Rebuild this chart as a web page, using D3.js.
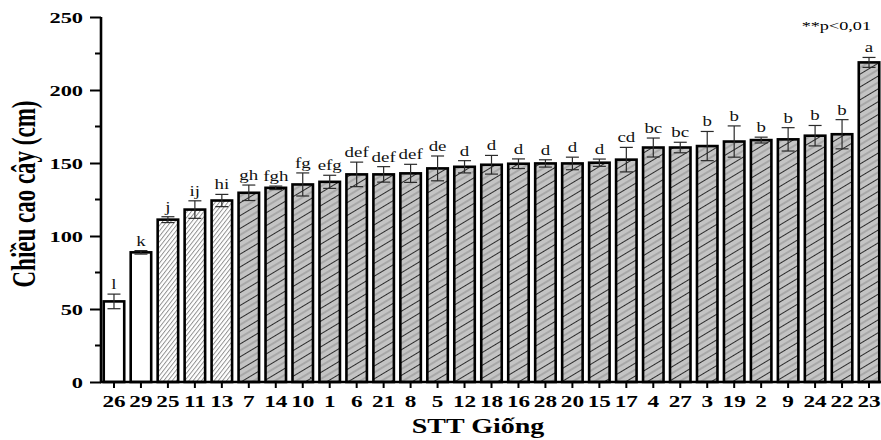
<!DOCTYPE html>
<html>
<head>
<meta charset="utf-8">
<script src="https://cdn.jsdelivr.net/npm/d3@7/dist/d3.min.js"></script>
<style>
  html, body { margin: 0; padding: 0; background: #fff; }
  svg text { font-family: "Liberation Serif", "Times New Roman", serif; }
</style>
</head>
<body>
<svg id="chart" width="881" height="440"></svg>
<script>
// Plant height (cm) per variety, sorted ascending
const varieties = ["26","29","25","11","13","7","14","10","1","6","21","8","5","12","18","16","28","20","15","17","4","27","3","19","2","9","24","22","23"];
const heights   = [55.2, 88.8, 111.2, 118.1, 124.3, 129.6, 133, 135.3, 137.1, 142.2, 142.2, 142.9, 146.3, 147.4, 148.8, 149.5, 149.7, 149.7, 150.2, 152.3, 160.6, 160.6, 161.6, 164.7, 165.7, 166.2, 168.7, 169.7, 218.9];
const errors    = [5, 1.2, 2, 6, 4.2, 5.3, 1.2, 7.9, 4.5, 8.4, 5.3, 6.2, 8.5, 4.2, 6.4, 3.3, 2.5, 4.3, 2.5, 8.4, 6.5, 3.6, 10, 10.7, 2, 8, 7, 10, 3.4];
const letters   = ["l","k","j","ij","hi","gh","fgh","fg","efg","def","def","def","de","d","d","d","d","d","d","cd","bc","bc","b","b","b","b","b","b","a"];
// Fill group: 0 = plain, 1 = fine hatch, 2 = grey hatch
const groups    = [0,0,1,1,1,2,2,2,2,2,2,2,2,2,2,2,2,2,2,2,2,2,2,2,2,2,2,2,2];
const yTicks    = [0, 50, 100, 150, 200, 250];
const yMinor    = [25, 75, 125, 175, 225];

const svg = d3.select("#chart");
const W = 881;
const x0 = 101, yBase = 382, yTop = 17;

const x = d3.scaleBand().domain(varieties).range([100.5, 882.5]).paddingInner(0.24).paddingOuter(0.12);
const y = d3.scaleLinear().domain([0, 250]).range([yBase, yTop]);

// Fill patterns
const defs = svg.append("defs");
const fine = defs.append("pattern").attr("id", "fine").attr("patternUnits", "userSpaceOnUse")
  .attr("width", 4).attr("height", 3.3).attr("patternTransform", "rotate(-52)");
fine.append("rect").attr("width", 4).attr("height", 3.3).attr("fill", "#fff");
fine.append("line").attr("x1", 0).attr("x2", 4).attr("y1", 0.5).attr("y2", 0.5).attr("stroke", "#888").attr("stroke-width", 0.9);

const grey = defs.append("pattern").attr("id", "grey").attr("patternUnits", "userSpaceOnUse")
  .attr("width", 10).attr("height", 11).attr("patternTransform", "rotate(-31)");
grey.append("rect").attr("width", 10).attr("height", 11).attr("fill", "#c4c4c4");
grey.append("line").attr("x1", 0).attr("x2", 10).attr("y1", 0.5).attr("y2", 0.5).attr("stroke", "#2a2a2a").attr("stroke-width", 1);
grey.append("line").attr("x1", 0).attr("x2", 10).attr("y1", 6).attr("y2", 6).attr("stroke", "#8c8c8c").attr("stroke-width", 1);

const fills = ["#fff", "url(#fine)", "url(#grey)"];
const data = varieties.map((v, i) => ({ v, h: heights[i], e: errors[i], l: letters[i], g: groups[i] }));
const cx = d => x(d.v) + x.bandwidth() / 2;

// Bars
svg.append("g").selectAll("rect").data(data).join("rect")
  .attr("x", d => x(d.v)).attr("width", x.bandwidth())
  .attr("y", d => y(d.h)).attr("height", d => y(0) - y(d.h))
  .attr("fill", d => fills[d.g]).attr("stroke", "#000").attr("stroke-width", 2.6);

// Error bars
const eb = svg.append("g").attr("stroke", "#2a2a2a").attr("stroke-width", 1.2);
const cap = 6.5;
data.forEach(d => {
  const c = cx(d), t = y(d.h + d.e), b = y(d.h - d.e);
  eb.append("line").attr("x1", c).attr("x2", c).attr("y1", t).attr("y2", b);
  eb.append("line").attr("x1", c - cap).attr("x2", c + cap).attr("y1", t).attr("y2", t);
  eb.append("line").attr("x1", c - cap).attr("x2", c + cap).attr("y1", b).attr("y2", b);
});

// Significance letters (wide-set type)
svg.append("g").selectAll("text").data(data).join("text")
  .attr("transform", d => `translate(${cx(d)},${y(d.h + d.e) - 5}) scale(1.35,1)`)
  .attr("text-anchor", "middle").attr("font-size", 14).attr("fill", "#111")
  .text(d => d.l);

// Y axis
const yAxis = svg.append("g").attr("transform", `translate(${x0},0)`)
  .call(d3.axisLeft(y).tickValues(yTicks).tickSize(11).tickPadding(0));
yAxis.append("g").selectAll("line").data(yMinor).join("line")
  .attr("x1", -6).attr("x2", 0).attr("y1", d => y(d)).attr("y2", d => y(d)).attr("stroke", "#000").attr("stroke-width", 2);
yAxis.select(".domain").attr("stroke-width", 2.6).attr("d", `M0,${yBase + 1}V${yTop}`);
yAxis.selectAll(".tick line").attr("stroke-width", 2);
yAxis.selectAll(".tick text")
  .attr("x", null).attr("dy", "0.36em")
  .attr("transform", "translate(-18,0) scale(1.6,1)")
  .attr("font-family", "Liberation Serif").attr("font-size", 14).attr("font-weight", "bold").attr("fill", "#000");

// X axis
const xAxis = svg.append("g").attr("transform", `translate(0,${yBase})`)
  .call(d3.axisBottom(x).tickSize(6).tickPadding(0));
xAxis.select(".domain").attr("stroke-width", 2.6).attr("d", `M${x0 - 1},0H${W}`);
xAxis.selectAll(".tick line").attr("stroke-width", 2);
xAxis.selectAll(".tick text")
  .attr("y", null).attr("dy", null)
  .attr("transform", "translate(0,25) scale(1.45,1)")
  .attr("font-family", "Liberation Serif").attr("font-size", 16).attr("font-weight", "bold").attr("fill", "#000");

// Axis titles
svg.append("text").attr("transform", `translate(35,194) scale(1.45,1) rotate(-90)`)
  .attr("text-anchor", "middle").attr("font-size", 23).attr("font-weight", "bold").text("Chiều cao cây (cm)");
svg.append("text").attr("transform", "translate(478,433) scale(1.4,1)")
  .attr("text-anchor", "middle").attr("font-size", 20).attr("font-weight", "bold").text("STT Giống");

// Significance note
svg.append("text").attr("transform", "translate(871,30) scale(1.4,1)").attr("text-anchor", "end")
  .attr("font-size", 13).text("**p<0,01");
</script>
</body>
</html>
